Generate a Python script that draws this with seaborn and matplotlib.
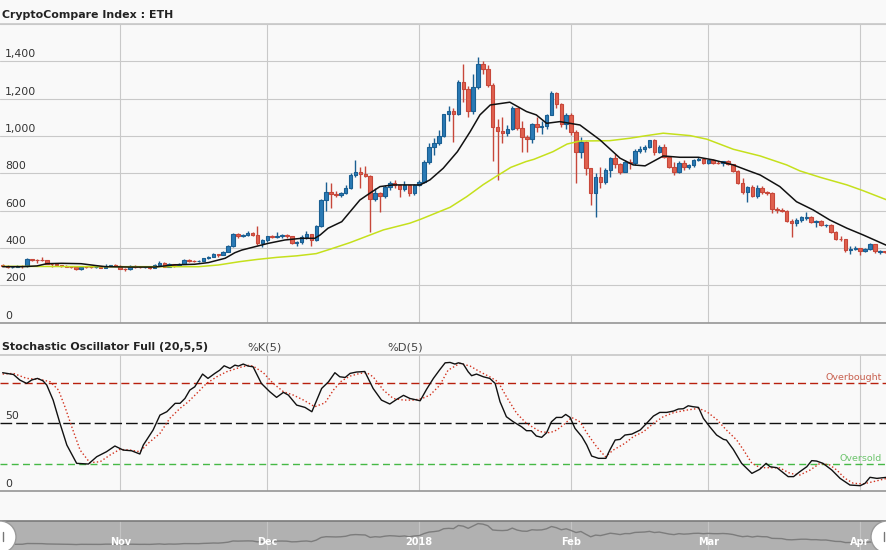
import numpy as np
import pandas as pd
import matplotlib
matplotlib.use("Agg")
import matplotlib.pyplot as plt
from matplotlib.patches import Circle
from matplotlib.transforms import IdentityTransform
import seaborn as sns

# ---- data ----
start = pd.Timestamp("2017-10-08")
dates = pd.date_range(start, periods=181, freq="D")

open_ = [
    # Oct 8-31
    310, 306, 297, 300, 303, 301, 340, 338, 336, 334, 317, 314, 308, 304, 300, 296, 286, 298, 297, 296, 297, 294, 306, 307,
    # Nov
    305, 290, 286, 305, 300, 296, 298, 294, 309, 320, 299, 314, 307, 316, 336, 333, 330, 332, 347, 354,
    367, 361, 381, 410, 473, 466, 471, 478, 472, 428,
    # Dec
    441, 463, 461, 466, 470, 463, 428, 434, 460, 473, 441, 518, 658, 698, 690, 684, 694, 720, 790, 809,
    798, 787, 660, 697, 679, 725, 750, 737, 714, 737, 693,
    # Jan
    737, 755, 862, 939, 964, 1000, 1116, 1136, 1120, 1288, 1250, 1136, 1261, 1384, 1357, 1275, 1050, 1027, 1018, 1036,
    1148, 1045, 992, 982, 1062, 1046, 1055, 1113, 1232, 1170, 1062,
    # Feb
    1113, 1024, 916, 970, 827, 693, 782, 755, 818, 880, 850, 809, 862, 857, 920, 929, 943, 977, 916, 940,
    886, 836, 806, 857, 832, 845, 872, 878,
    # Mar
    854, 872, 857, 855, 866, 850, 814, 750, 698, 725, 681, 720, 698, 693, 611, 605, 598, 545, 534, 552,
    562, 565, 541, 543, 522, 525, 486, 450, 446, 389, 396,
    # Apr 1-6
    400, 386, 395, 420, 380, 384,
]
high = [
    314, 308, 304, 307, 308, 348, 343, 340, 350, 336, 319, 316, 311, 309, 303, 298, 301, 300, 299, 300, 299, 312, 310, 312,
    307, 292, 309, 308, 303, 305, 300, 315, 329, 325, 320, 316, 318, 340, 340, 335, 335, 349, 356, 372,
    370, 384, 418, 478, 480, 476, 489, 485, 518, 450,
    466, 468, 485, 475, 475, 465, 440, 470, 490, 475, 522, 662, 754, 750, 705, 700, 735, 800, 869, 833,
    837, 790, 720, 700, 740, 760, 764, 740, 760, 740, 745,
    765, 870, 960, 990, 1030, 1120, 1160, 1150, 1300, 1384, 1270, 1333, 1422, 1400, 1380, 1285, 1090, 1104, 1060, 1160,
    1150, 1080, 1005, 1068, 1100, 1080, 1120, 1240, 1236, 1175, 1125,
    1125, 1030, 995, 975, 830, 800, 835, 830, 885, 905, 855, 870, 875, 930, 948, 950, 980, 985, 950, 955,
    895, 860, 865, 870, 850, 875, 890, 880,
    876, 876, 868, 868, 872, 852, 820, 775, 730, 735, 740, 730, 705, 698, 620, 616, 604, 555, 560, 570,
    592, 570, 548, 552, 530, 528, 492, 465, 450, 410, 412,
    402, 398, 425, 422, 388, 386,
]
low = [
    303, 292, 294, 297, 295, 300, 331, 318, 330, 313, 296, 306, 299, 296, 291, 280, 283, 292, 292, 293, 291, 292, 301, 303,
    286, 276, 281, 295, 294, 293, 289, 292, 306, 296, 297, 298, 305, 315, 325, 323, 325, 330, 342, 352,
    350, 360, 380, 405, 456, 460, 466, 462, 415, 405,
    430, 453, 455, 455, 455, 420, 410, 420, 450, 410, 440, 510, 598, 612, 672, 675, 690, 715, 780, 720,
    780, 488, 650, 595, 670, 710, 720, 675, 705, 680, 685,
    730, 750, 850, 900, 950, 995, 1080, 970, 1110, 1180, 1104, 1120, 1250, 1330, 1260, 866, 766, 960, 1000, 1030,
    1030, 916, 916, 960, 1020, 1010, 1040, 1110, 1150, 1050, 1040,
    1005, 750, 880, 790, 630, 568, 720, 745, 780, 830, 795, 805, 825, 845, 910, 915, 935, 900, 910, 880,
    830, 790, 800, 820, 825, 835, 865, 850,
    850, 852, 852, 838, 845, 805, 745, 690, 645, 675, 670, 690, 685, 590, 585, 595, 540, 457, 520, 540,
    550, 535, 510, 518, 512, 480, 445, 440, 380, 366, 388,
    362, 378, 390, 375, 368, 372,
]
close = [
    306, 297, 300, 303, 301, 340, 338, 336, 334, 317, 314, 308, 304, 300, 296, 286, 298, 297, 296, 297, 294, 306, 307, 305,
    290, 286, 305, 300, 296, 298, 294, 309, 320, 299, 314, 307, 316, 336, 333, 330, 332, 347, 354, 367,
    361, 381, 410, 473, 466, 471, 478, 472, 428, 441,
    463, 461, 466, 470, 463, 428, 434, 460, 473, 441, 518, 658, 698, 690, 684, 694, 720, 790, 809, 798,
    787, 660, 697, 679, 725, 750, 737, 714, 737, 693, 737,
    755, 862, 939, 964, 1000, 1116, 1136, 1120, 1288, 1250, 1136, 1261, 1384, 1357, 1275, 1050, 1027, 1018, 1036, 1148,
    1045, 992, 982, 1062, 1046, 1055, 1113, 1232, 1170, 1062, 1113,
    1024, 916, 970, 827, 693, 782, 755, 818, 880, 850, 809, 862, 857, 920, 929, 943, 977, 916, 940, 886,
    836, 806, 857, 832, 845, 872, 878, 854,
    872, 857, 855, 866, 850, 814, 750, 698, 725, 681, 720, 698, 693, 611, 605, 598, 545, 534, 552, 566,
    565, 541, 543, 522, 525, 486, 450, 446, 389, 396, 400,
    386, 395, 420, 386, 384, 377,
]

# moving averages as drawn (day offset from Oct 8, value)
ma_fast_day = [0, 4, 7, 9, 12, 16, 19, 21, 26, 31, 35.2, 39.2, 42, 45.4, 47.4, 48.8, 51.5, 54.2, 57.6, 61,
               63.7, 64.8, 66.4, 69.2, 72.9, 74.9, 77, 79.7, 85.2, 87.2, 89.9, 92.8, 95.4, 97.4, 99.5, 103.5,
               106.9, 108.9, 111, 113.7, 117.8, 121.9, 126, 128.7, 131.1, 134.8, 138.2, 142, 145, 149.1,
               151.8, 154.6, 158.6, 162, 165.4, 168.8, 172.3, 175.6, 180.4]
ma_fast = [300, 300, 304, 316, 318, 316, 306, 300, 298, 298, 310, 313, 322, 345, 375, 389, 407, 425, 443, 452,
           452, 470, 506, 541, 657, 693, 729, 738, 738, 765, 827, 916, 1023, 1113, 1166, 1181,
           1131, 1113, 1068, 1077, 1059, 979, 881, 845, 840, 893, 886, 886, 872, 845,
           818, 791, 729, 648, 604, 550, 506, 470, 414]
ma_slow_day = [0, 20, 40, 44, 48.4, 52, 56, 60, 64, 67, 70.9, 77.7, 83.1, 85.2, 91.3, 94.7, 98.1, 100.8,
               103.7, 106.8, 108.4, 112.3, 115.2, 117.8, 123.9, 128, 131.4, 134.8, 140.3, 143.7, 149.1,
               154.6, 160, 162.7, 166.8, 172.3, 175.6, 180.4]
ma_slow = [302, 300, 300, 309, 327, 339, 350, 358, 370, 395, 429, 497, 533, 553, 618, 675, 740, 785,
           832, 863, 875, 916, 957, 973, 975, 988, 1002, 1015, 1002, 983, 929,
           893, 845, 813, 779, 738, 707, 658]

# stochastic oscillator
k_day = [0, 2.2, 3.5, 4.9, 5.9, 7.1, 8.2, 9.0, 10.3, 11.7, 13.1, 15.1, 17.5, 19.2, 21.2, 22.9, 24.6, 26.3, 28.0,
         28.7, 30.7, 32.1, 33.5, 35.2, 36.2, 37.2, 38.2, 39.2, 40.8, 41.9, 43.3, 44.3, 45.2, 46.4, 47.4, 48.1,
         49.1, 50.1, 51.1, 52.8, 54.5, 55.9, 57.3, 58.3, 60.0, 61.7, 63.1, 65.1, 66.5, 67.8, 68.8, 69.9, 70.9,
         72.2, 73.9, 75.6, 77.3, 79.0, 80.4, 81.8, 83.1, 85.2, 86.5, 87.9, 89.2, 90.3, 91.3, 92.3, 93.0, 94.0,
         95.0, 95.7, 96.7, 98.1, 99.4, 100.5, 101.5, 102.8, 104.2, 105.9, 106.9, 107.9, 108.9, 110.0, 111.0,
         112.0, 113.0, 114.1, 114.9, 115.8, 116.8, 118.2, 119.2, 120.2, 121.6, 123.1, 123.9, 125.0, 126.0,
         127.0, 128.4, 130.1, 131.4, 132.8, 134.1, 135.5, 136.9, 137.9, 138.9, 139.9, 140.9, 142.0, 143.0,
         144.3, 145.7, 147.1, 147.7, 149.1, 150.8, 152.9, 154.5, 155.8, 156.6, 158.0, 159.0, 160.3, 161.4,
         162.7, 164.1, 165.1, 166.1, 167.4, 169.2, 170.9, 172.9, 175.0, 176.0, 177.0, 178.4, 180.4]
k_val = [87.3, 86.0, 81.9, 79.4, 81.9, 83.1, 81.4, 78.2, 67.1, 49.9, 33.9, 20.4, 19.9, 25.3, 29.0, 33.2, 30.2, 29.7, 27.3,
         33.9, 45.0, 56.0, 58.5, 64.7, 64.7, 68.3, 74.5, 76.9, 86.3, 83.1, 86.8, 89.2, 92.4, 90.5, 92.9, 92.2,
         93.7, 92.2, 91.7, 79.4, 73.3, 69.1, 72.8, 70.8, 63.4, 61.7, 58.5, 75.7, 80.6, 87.3, 84.3, 83.8, 86.8,
         87.8, 88.2, 75.7, 67.1, 64.2, 67.6, 70.6, 68.3, 66.6, 75.0, 83.1, 89.5, 94.6, 94.9, 93.7, 94.6, 93.7,
         88.0, 85.1, 86.3, 84.3, 83.1, 79.4, 65.9, 54.8, 51.1, 47.4, 44.5, 44.5, 40.6, 39.6, 43.0,
         51.1, 54.3, 54.3, 56.5, 54.3, 46.2, 40.1, 33.9, 25.8, 24.1, 24.1, 30.2, 37.6, 38.1,
         41.3, 42.0, 45.0, 49.9, 55.3, 58.0, 58.0, 59.0, 60.5, 60.7, 62.9, 62.2, 61.7, 53.6,
         47.4, 41.3, 38.1, 37.6, 30.7, 20.4, 13.0, 16.0, 20.4, 17.9, 17.2, 14.3, 10.6, 10.6,
         14.3, 17.9, 22.4, 22.1, 20.4, 15.5, 9.3, 4.4, 3.9, 5.7, 10.1, 9.3, 10.1]
d_day = [0, 2.2, 4.9, 7.6, 9.7, 11.4, 12.7, 14.1, 15.8, 17.8, 19.9, 21.9, 23.9, 26.0, 28.0, 29.7, 32.1, 34.1, 36.2,
         37.9, 39.6, 41.6, 43.7, 45.7, 48.4, 50.1, 51.1, 53.2, 55.2, 57.3, 59.3, 61.4, 63.7, 65.8, 67.5, 69.2,
         70.9, 72.9, 74.3, 75.6, 77.7, 79.7, 81.8, 83.8, 85.5, 87.2, 89.2, 90.9, 93.3, 95.4, 97.4, 99.4, 101.1,
         102.8, 104.9, 106.9, 109.7, 111.7, 113.1, 114.8, 116.1, 117.8, 119.5, 121.2, 123.0, 124.6, 127.0,
         128.7, 130.8, 132.8, 134.8, 136.9, 139.6, 142.0, 143.7, 145.7, 147.7, 149.8, 151.2, 152.9, 154.6,
         156.6, 158.6, 160.7, 162.7, 164.8, 166.8, 168.8, 170.2, 171.9, 173.6, 175.6, 177.7, 180.4]
d_val = [86.3, 86.8, 83.1, 82.4, 80.6, 74.5, 62.2, 47.4, 30.2, 20.9, 21.6, 26.5, 30.7, 30.2, 29.0, 35.2, 42.5, 53.6, 61.0,
         65.9, 72.0, 79.4, 84.3, 88.0, 91.2, 92.7, 92.2, 87.3, 79.4, 73.3, 70.8, 67.1, 62.2, 65.1, 74.5, 81.4,
         84.8, 86.8, 87.3, 84.3, 74.5, 68.3, 67.1, 67.1, 68.1, 70.8, 78.0, 89.2, 94.2, 92.2, 88.0, 84.3, 80.6,
         69.6, 57.3, 49.9, 43.8, 43.0, 45.0, 49.9, 54.3, 51.1, 41.3, 32.7, 25.3, 30.2, 35.2,
         40.1, 43.8, 49.9, 54.8, 57.8, 59.7, 61.0, 58.5, 52.9, 45.0, 37.6, 30.2, 20.4, 17.2,
         17.2, 17.0, 13.0, 11.8, 15.5, 20.4, 19.2, 15.5, 9.3, 5.7, 5.2, 6.9, 9.3]

price_ticks = [0, 200, 400, 600, 800, 1000, 1200, 1400]
price_labels = ["0", "200", "400", "600", "800", "1,000", "1,200", "1,400"]
month_starts = pd.to_datetime(["2017-11-01", "2017-12-01", "2018-01-01", "2018-02-01", "2018-03-01", "2018-04-01"])
month_labels = ["Nov", "Dec", "2018", "Feb", "Mar", "Apr"]

# ---- style ----
sns.set_theme(style="white")
plt.rcParams["font.family"] = ["DejaVu Sans"]
bg = "#f9f9f9"
grid_c = "#c9c9c9"
txt_c = "#333333"

fig = plt.figure(figsize=(8.87, 5.5), dpi=100, facecolor=bg)
ax1 = fig.add_axes([0, 0.4133, 1, 0.5431])
ax2 = fig.add_axes([0, 0.1073, 1, 0.2473])
ax3 = fig.add_axes([0, 0, 1, 0.0527])

xmin = start - pd.Timedelta(hours=13)
xmax = start + pd.Timedelta(days=180.47)


def to_dates(days):
    return start + pd.to_timedelta(np.array(days), unit="D")


for ax in (ax1, ax2, ax3):
    ax.set_facecolor(bg)
    ax.set_xlim(xmin, xmax)
    ax.set_xticks(month_starts)
    ax.set_xticklabels([])
    ax.tick_params(length=0)
    for s in ("left", "right"):
        ax.spines[s].set_visible(False)

# ---- price panel ----
o = np.array(open_, float)
h = np.array(high, float)
l = np.array(low, float)
c = np.array(close, float)
up = c >= o
body_col = np.where(up, "#2a7ab5", "#e0614f")
edge_col = np.where(up, "#1a5f92", "#c7473a")

ax1.vlines(dates, l, h, colors=edge_col, lw=1.0, zorder=3)
ax1.bar(dates, c - o, bottom=o, width=0.72, color=body_col, edgecolor=edge_col,
        linewidth=0.8, zorder=4)
sns.lineplot(x=to_dates(ma_slow_day), y=ma_slow, ax=ax1, color="#c5e01c", lw=1.1, zorder=5)
sns.lineplot(x=to_dates(ma_fast_day), y=ma_fast, ax=ax1, color="#111111", lw=1.1, zorder=6)

ax1.set_ylim(0, 1600)
ax1.set_yticks(range(0, 1601, 200))
ax1.set_yticklabels([])
ax1.grid(True, color=grid_c, lw=0.8)
ax1.set_axisbelow(True)
ax1.spines["top"].set_color(grid_c)
ax1.spines["bottom"].set_color("#9a9a9a")
ax1.set_xlabel("")
ax1.set_ylabel("")
for v, lab in zip(price_ticks, price_labels):
    ax1.annotate(lab, xy=(0, v), xycoords=("axes fraction", "data"), xytext=(5, 2),
                 textcoords="offset pixels", ha="left", va="bottom", fontsize=7.8, color=txt_c)

fig.text(2 / 887, 1 - 18.3 / 550, "CryptoCompare Index : ETH", fontsize=7.9,
         fontweight="bold", color="#222222", va="baseline", ha="left")

# ---- stochastic panel ----
sns.lineplot(x=to_dates(k_day), y=k_val, ax=ax2, color="#111111", lw=1.0, zorder=5)
sns.lineplot(x=to_dates(d_day), y=d_val, ax=ax2, color="#d2321e", lw=1.0, ls=":", zorder=4)
ax2.axhline(80, color="#b8200e", lw=1.0, ls=(0, (5.8, 2.9)), zorder=3)
ax2.axhline(50, color="#111111", lw=1.0, ls=(0, (8.4, 2.9)), zorder=3)
ax2.axhline(20, color="#46b946", lw=1.0, ls=(0, (5, 3.1)), zorder=3)
ax2.set_ylim(0, 100.4)
ax2.set_yticks([])
ax2.grid(True, axis="x", color=grid_c, lw=0.8)
ax2.set_axisbelow(True)
ax2.spines["top"].set_color(grid_c)
ax2.spines["bottom"].set_color("#9a9a9a")
ax2.set_xlabel("")
ax2.set_ylabel("")
for v, lab in zip([50, 0], ["50", "0"]):
    ax2.annotate(lab, xy=(0, v), xycoords=("axes fraction", "data"), xytext=(5, 2),
                 textcoords="offset pixels", ha="left", va="bottom", fontsize=7.8, color=txt_c)
ax2.annotate("Overbought", xy=(1, 80), xycoords=("axes fraction", "data"), xytext=(-5, 1),
             textcoords="offset pixels", ha="right", va="bottom", fontsize=6.8, color="#c8604f")
ax2.annotate("Oversold", xy=(1, 20), xycoords=("axes fraction", "data"), xytext=(-5, 1),
             textcoords="offset pixels", ha="right", va="bottom", fontsize=6.8, color="#6cc46c")

fig.text(2 / 887, 1 - 350 / 550, "Stochastic Oscillator Full (20,5,5)", fontsize=7.9,
         fontweight="bold", color="#222222", va="baseline", ha="left")
fig.text(264.7 / 887, 1 - 350 / 550, "%K(5)", fontsize=8.2, color="#444444",
         va="baseline", ha="center")
fig.text(404.7 / 887, 1 - 350 / 550, "%D(5)", fontsize=8.2, color="#444444",
         va="baseline", ha="center")

# ---- navigator ----
ax3.set_facecolor("#b1b1b1")
sns.lineplot(x=dates, y=close, ax=ax3, color="#7c7c7c", lw=1.0, zorder=3)
ax3.set_ylim(0, 1520)
ax3.set_yticks([])
ax3.grid(True, axis="x", color="#c4c4c4", lw=0.8)
ax3.set_axisbelow(True)
ax3.spines["top"].set_color("#7a7a7a")
ax3.spines["top"].set_linewidth(1.2)
ax3.spines["bottom"].set_visible(False)
ax3.set_xlabel("")
ax3.set_ylabel("")
for d, lab in zip(month_starts, month_labels):
    ax3.text(d, 0.29, lab, transform=ax3.get_xaxis_transform(), ha="center", va="center",
             fontsize=7, fontweight="bold", color="white", zorder=6)

for cx in (0, 887):
    fig.patches.append(Circle((cx, 13), 16, transform=IdentityTransform(), facecolor="white",
                              edgecolor="#9a9a9a", lw=1.0, zorder=10))
fig.add_artist(plt.Line2D([3 / 887, 3 / 887], [9 / 550, 18 / 550], color="#777777", lw=1.0, zorder=11))
fig.add_artist(plt.Line2D([884 / 887, 884 / 887], [9 / 550, 18 / 550], color="#777777", lw=1.0, zorder=11))

fig.savefig("out.png", dpi=100, facecolor=bg)
